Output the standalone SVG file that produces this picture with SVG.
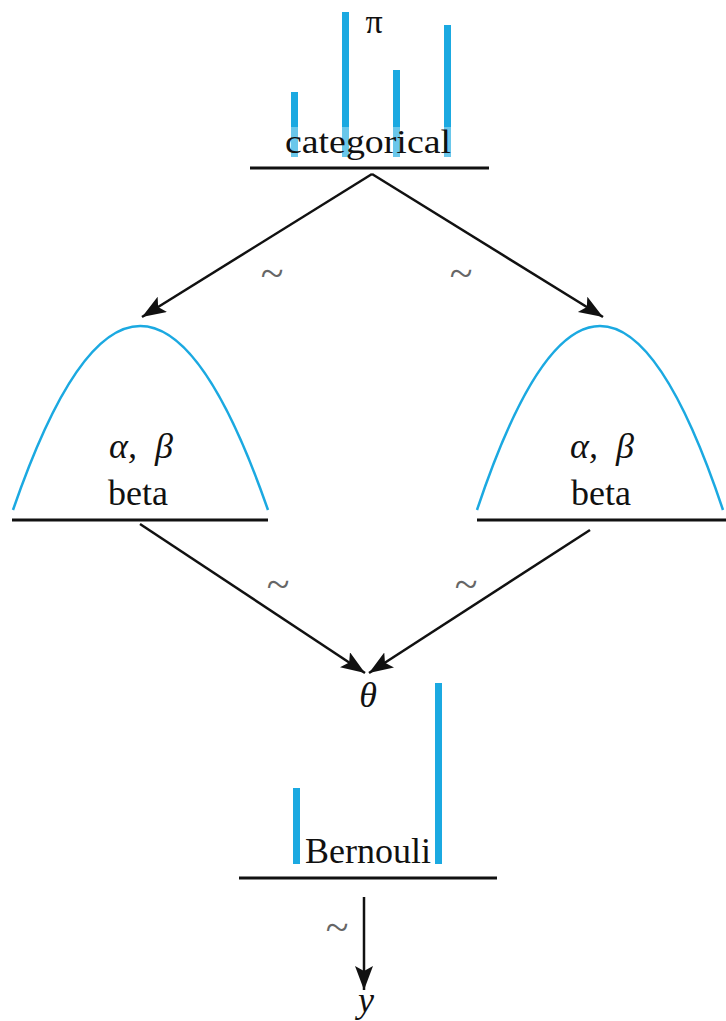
<svg xmlns="http://www.w3.org/2000/svg" width="726" height="1021" viewBox="0 0 726 1021">
<style>
.bar{fill:#1ba9e1}
.curve{fill:none;stroke:#1ba9e1;stroke-width:2.5}
.base{stroke:#111;stroke-width:3}
.lbl{font-family:"Liberation Serif","Times New Roman",serif;fill:#111;text-anchor:middle}
.it{font-style:italic}
.tilde{font-family:"Liberation Serif",serif;fill:#666;font-size:42px;text-anchor:middle}
.edge{stroke:#111;stroke-width:2.5;fill:none;marker-end:url(#ah)}
</style>
<defs>
<marker id="ah" markerUnits="userSpaceOnUse" markerWidth="26" markerHeight="20" refX="24" refY="9" orient="auto">
<path d="M0,0 L24,9 L0,18 L5,9 z" fill="#111"/>
</marker>
</defs>
<rect width="726" height="1021" fill="#fff"/>
<g id="categorical">
<rect class="bar" x="291" y="92" width="7" height="65"/>
<rect class="bar" x="342" y="12" width="7" height="145"/>
<rect class="bar" x="393" y="70" width="7" height="87"/>
<rect class="bar" x="444" y="25" width="7" height="132"/>
<rect x="280" y="127" width="176" height="31" fill="#fff" opacity="0.35"/>
<text class="lbl" x="374" y="33" font-size="34">π</text>
<text class="lbl" x="368" y="153" font-size="33" textLength="166" lengthAdjust="spacingAndGlyphs">categorical</text>
<line class="base" x1="250" y1="168" x2="489" y2="168"/>
</g>
<g id="beta-left">
<path class="curve" d="M13,510 Q140,142 268,510"/>
<text class="lbl it" x="141" y="458" font-size="36" xml:space="preserve">α,  β</text>
<text class="lbl" x="138" y="505" font-size="36">beta</text>
<line class="base" x1="12" y1="520" x2="268" y2="520"/>
</g>
<g id="beta-right">
<path class="curve" d="M477,510 Q600,142 723,510"/>
<text class="lbl it" x="602" y="458" font-size="36" xml:space="preserve">α,  β</text>
<text class="lbl" x="601" y="505" font-size="36">beta</text>
<line class="base" x1="477" y1="520" x2="726" y2="520"/>
</g>
<g id="theta">
<text class="lbl it" x="368" y="707" font-size="36">θ</text>
</g>
<g id="bernoulli">
<rect class="bar" x="293" y="788" width="7" height="76"/>
<rect class="bar" x="435" y="683" width="7" height="181"/>
<text class="lbl" x="368" y="863" font-size="36">Bernouli</text>
<line class="base" x1="239" y1="878" x2="497" y2="878"/>
</g>
<g id="y">
<text class="lbl it" x="366" y="1012" font-size="36">y</text>
</g>
<g id="connectors">
<line class="edge" x1="372" y1="174" x2="142" y2="317"/>
<line class="edge" x1="372" y1="174" x2="603" y2="317"/>
<line class="edge" x1="140" y1="524" x2="365" y2="673"/>
<line class="edge" x1="590" y1="530" x2="369" y2="673"/>
<line class="edge" x1="364" y1="897" x2="364" y2="990"/>
<text class="tilde" x="272" y="287">~</text>
<text class="tilde" x="461" y="287">~</text>
<text class="tilde" x="278" y="598">~</text>
<text class="tilde" x="466" y="598">~</text>
<text class="tilde" x="337" y="941">~</text>
</g>
</svg>
